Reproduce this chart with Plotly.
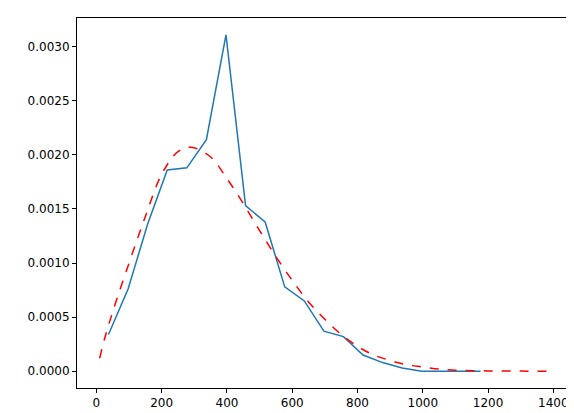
import plotly.graph_objects as go

hist_x = [37, 97, 157, 217, 277, 337, 397, 457, 517, 577, 637, 697, 757, 817, 877, 937, 997, 1057, 1117, 1177]
hist_y = [0.00034, 0.00076, 0.00136, 0.00186, 0.00188, 0.00214, 0.00311, 0.00153, 0.00138, 0.00078,
          0.00065, 0.00037, 0.00032, 0.00015, 0.00008, 0.00003, 0.0, 0.0, 0.0, 0.0]

fit_x = [10, 25, 50, 100, 150, 200, 250, 290, 350, 400, 450, 500, 550, 600, 650, 700, 750, 800,
         850, 900, 950, 1000, 1050, 1100, 1200, 1300, 1400]
fit_y = [0.00012, 0.0003, 0.00055, 0.0010, 0.00143, 0.00182, 0.00203, 0.00207, 0.00198, 0.00178,
         0.00155, 0.00130, 0.00106, 0.00084, 0.00064, 0.00048, 0.00034, 0.00023, 0.00015, 0.0001,
         0.00006, 0.00004, 0.00002, 0.00001, 0.000003, 0.000001, 0.0]

fig = go.Figure()
fig.add_trace(go.Scatter(x=hist_x, y=hist_y, mode="lines", line=dict(color="#1f77b4", width=1.5)))
fig.add_trace(go.Scatter(x=fit_x, y=fit_y, mode="lines", line=dict(color="red", width=1.5, dash="dash", shape="spline")))

ax = dict(showgrid=False, zeroline=False, showline=True, linecolor="black", linewidth=1, mirror=True,
          ticks="outside", ticklen=4, tickcolor="black")
fig.update_layout(
    width=574, height=413, showlegend=False,
    paper_bgcolor="white", plot_bgcolor="white",
    margin=dict(l=69, r=6, t=10, b=33),
    font=dict(family="DejaVu Sans", size=12, color="black"),
    xaxis=dict(range=[-59.5, 1469.5], tickvals=[0, 200, 400, 600, 800, 1000, 1200, 1400], **ax),
    yaxis=dict(range=[-0.000155, 0.003265], tickvals=[0, 0.0005, 0.001, 0.0015, 0.002, 0.0025, 0.003],
               tickformat=".4f", **ax),
)
fig.write_html("out.html")
